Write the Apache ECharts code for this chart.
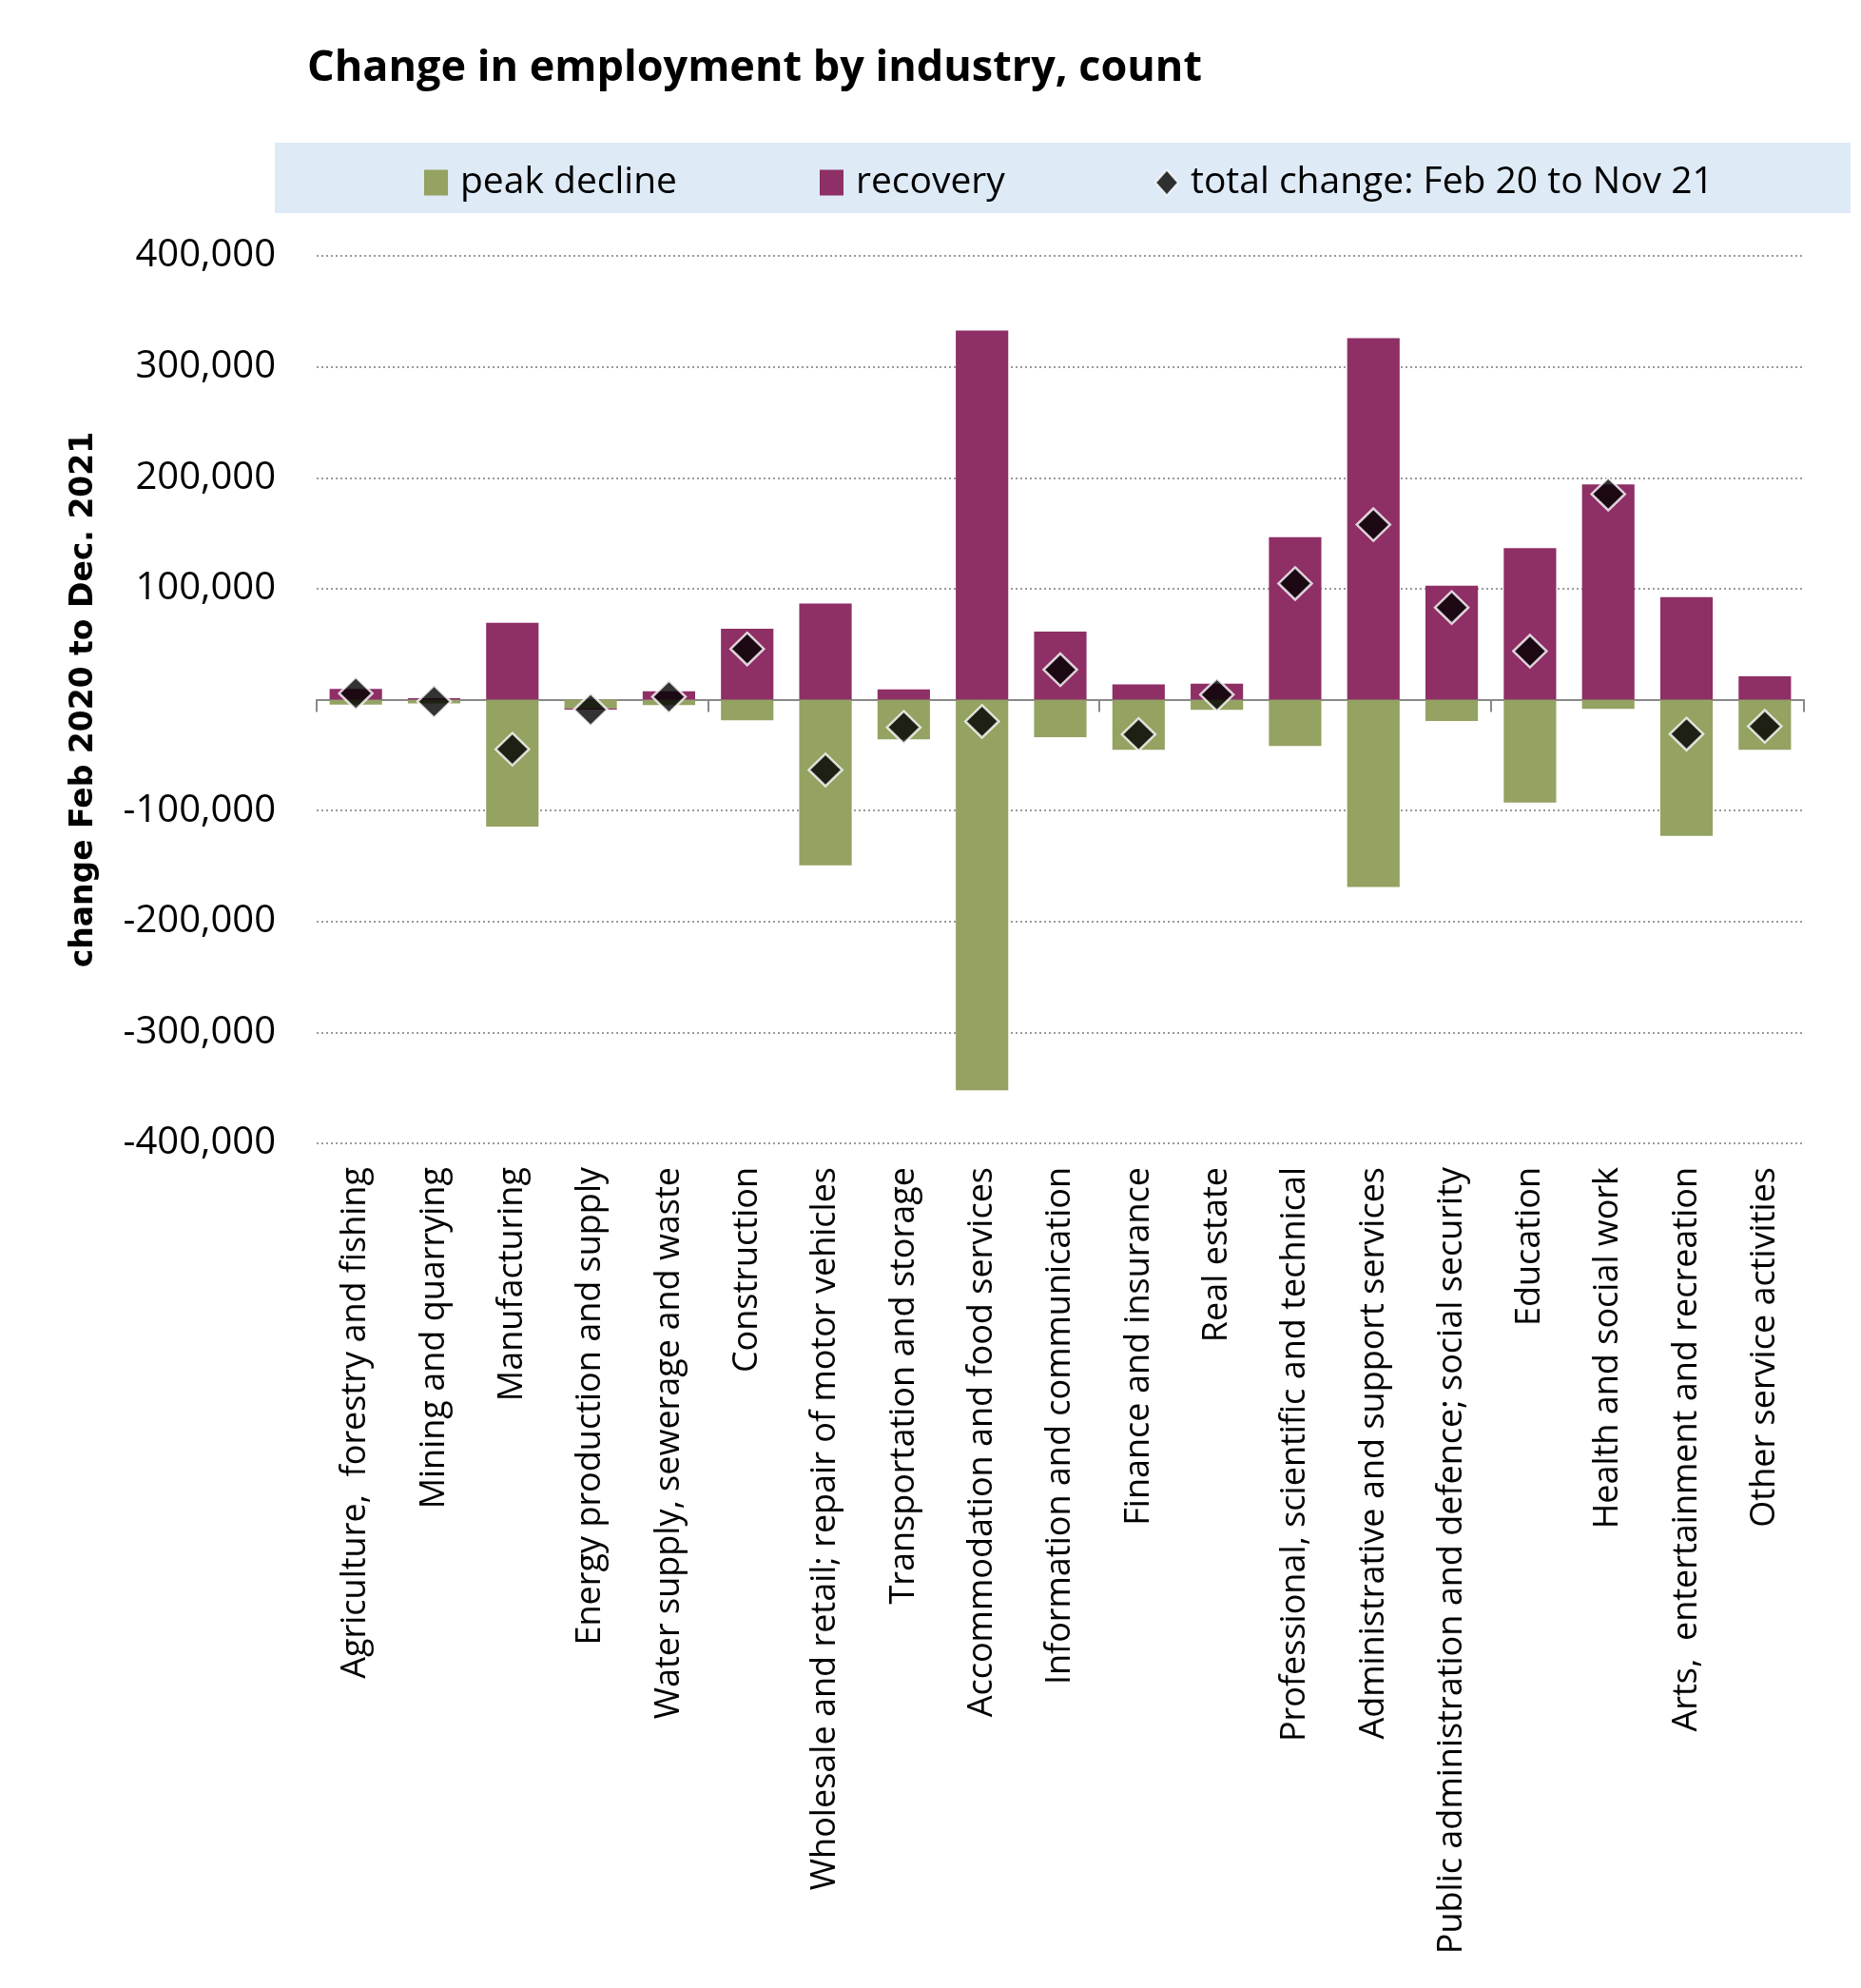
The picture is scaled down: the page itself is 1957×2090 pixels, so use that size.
<!DOCTYPE html>
<html>
<head>
<meta charset="utf-8">
<script src="https://cdn.jsdelivr.net/npm/echarts@6/dist/echarts.min.js"></script>
<style>
html,body{margin:0;padding:0;background:#fff;}
#chart{width:1957px;height:2090px;}
</style>
</head>
<body>
<div id="chart"></div>
<script>
const categories = [
  "Agriculture,  forestry and fishing",
  "Mining and quarrying",
  "Manufacturing",
  "Energy production and supply",
  "Water supply, sewerage and waste",
  "Construction",
  "Wholesale and retail; repair of motor vehicles",
  "Transportation and storage",
  "Accommodation and food services",
  "Information and communication",
  "Finance and insurance",
  "Real estate",
  "Professional, scientific and technical",
  "Administrative and support services",
  "Public administration and defence; social security",
  "Education",
  "Health and social work",
  "Arts,  entertainment and recreation",
  "Other service activities"
];
const peakDecline = [-4400, -3500, -114400, -7900, -4900, -18700, -149400, -35900, -352300, -33900, -45200, -9300, -41800, -169000, -19200, -92900, -8400, -122900, -45200];
const recovery = [9700, 1200, 69300, -1200, 7400, 63900, 86500, 9300, 332700, 61400, 13800, 14300, 146400, 325800, 102700, 136600, 194100, 92400, 21100];
const totalChange = [5600, -1800, -44700, -9100, 2500, 45700, -63400, -25000, -19700, 27000, -31400, 4400, 104700, 157700, 83000, 43700, 185300, -31000, -24100];
const yTicks = [-400000, -300000, -200000, -100000, 0, 100000, 200000, 300000, 400000];

const seriesNames = ["peak decline", "recovery", "total change: Feb 20 to Nov 21"];
const GREEN = "#94A262";
const PURPLE = "#8E2F66";
const FONT = "'Open Sans', 'Noto Sans', sans-serif";

const chart = echarts.init(document.getElementById('chart'), null, {renderer: 'canvas'});

const legendText = {fontFamily: FONT, fontSize: 39, color: '#000', lineHeight: 42, padding: [0, 0, 0, 8]};

chart.setOption({
  animation: false,
  backgroundColor: '#fff',
  title: {
    text: 'Change in employment by industry, count',
    left: 318, top: 45,
    textStyle: {fontFamily: FONT, fontWeight: 'bold', fontSize: 45, color: '#000'}
  },
  graphic: [{
    type: 'rect', z: -1,
    shape: {x: 289, y: 150, width: 1657, height: 74},
    style: {fill: '#DEEAF6'}
  }],
  legend: [
    {data: [{name: seriesNames[0], icon: 'rect'}], left: 441, top: 166, itemWidth: 25, itemHeight: 27, textStyle: legendText},
    {data: [{name: seriesNames[1], icon: 'rect'}], left: 857, top: 166, itemWidth: 25, itemHeight: 27, textStyle: legendText},
    {data: [{name: seriesNames[2], icon: 'path://M12,0 L24,13.5 L12,27 L0,13.5 Z'}], left: 1209, top: 166, itemWidth: 24, itemHeight: 27,
     textStyle: legendText,
     itemStyle: {color: '#000', borderColor: '#fff', borderWidth: 2}}
  ],
  grid: {left: 333, right: 60, top: 269, bottom: 888, containLabel: false},
  xAxis: [
    {
      type: 'category', data: categories, position: 'bottom',
      axisLine: {show: false, onZero: false},
      axisTick: {show: false},
      axisLabel: {rotate: 90, margin: 25, fontFamily: FONT, fontSize: 36, color: '#000', interval: 0}
    },
    {
      type: 'category', data: categories, position: 'bottom',
      axisLine: {show: true, onZero: true, lineStyle: {color: '#898989', width: 2}},
      axisTick: {show: true, length: 13, lineStyle: {color: '#898989', width: 2}},
      axisLabel: {show: false},
      splitLine: {show: false}
    }
  ],
  yAxis: {
    type: 'value', min: yTicks[0], max: yTicks[yTicks.length - 1], interval: 100000,
    name: 'change Feb 2020 to Dec. 2021',
    nameLocation: 'middle', nameGap: 228,
    nameTextStyle: {fontFamily: "'DejaVu Sans', sans-serif", fontWeight: 'bold', fontSize: 33, color: '#000'},
    axisLine: {show: false}, axisTick: {show: false},
    axisLabel: {
      margin: 43, fontFamily: FONT, fontSize: 40, color: '#000',
      formatter: v => v === 0 ? '' : v.toLocaleString('en-US')
    },
    splitLine: {show: true, lineStyle: {color: '#9a9a9a', width: 2, type: [2, 3]}}
  },
  series: [
    {name: seriesNames[0], type: 'bar', stack: 'a', data: peakDecline, barCategoryGap: '33%',
     itemStyle: {color: GREEN}, xAxisIndex: 0},
    {name: seriesNames[1], type: 'bar', stack: 'a', data: recovery,
     itemStyle: {color: PURPLE}, xAxisIndex: 0},
    {name: seriesNames[2], type: 'scatter', data: totalChange, symbol: 'diamond', symbolSize: [35, 34],
     itemStyle: {color: '#000', borderColor: '#fff', borderWidth: 2.5}, z: 5, xAxisIndex: 0}
  ]
});
</script>
</body>
</html>
